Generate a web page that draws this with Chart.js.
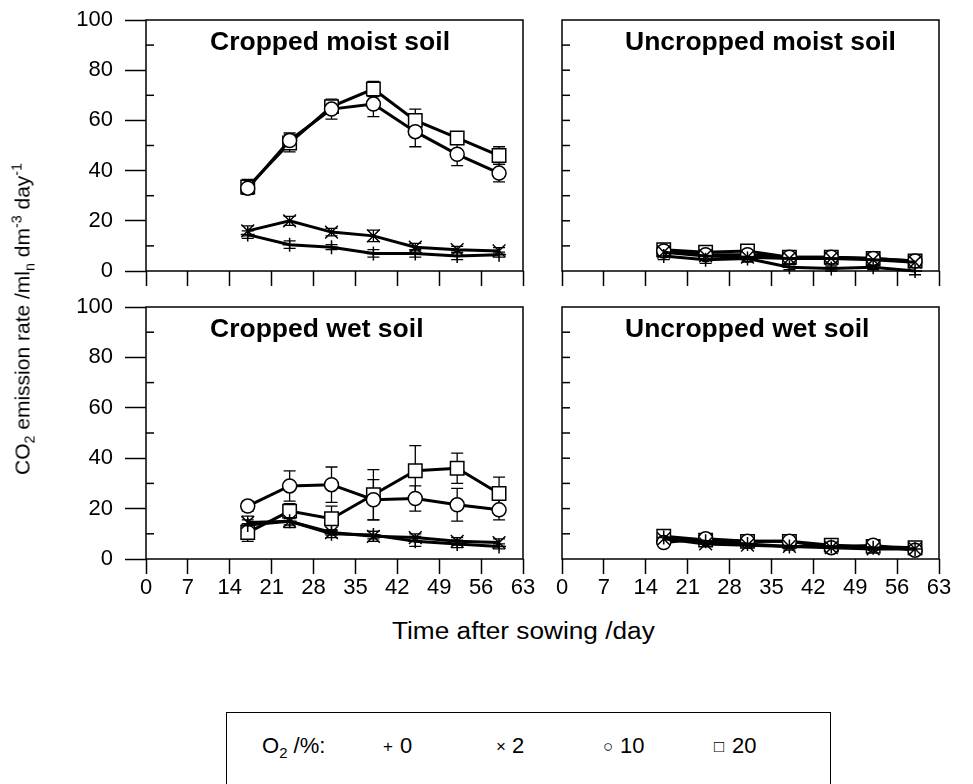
<!DOCTYPE html>
<html>
<head>
<meta charset="utf-8">
<script src="https://cdn.jsdelivr.net/npm/chart.js@4.4.1/dist/chart.umd.min.js"></script>
<style>
body{margin:0;background:#fff;width:973px;height:784px;overflow:hidden;position:relative;font-family:"Liberation Sans",Arial,sans-serif;color:#000}
canvas{position:absolute}
.txt{position:absolute;white-space:nowrap;line-height:1}
.ttl{font-weight:bold;font-size:25px;transform:scaleX(1.06);transform-origin:0 0}
sub,sup{font-size:0.68em;line-height:0}
</style>
</head>
<body>
<canvas id="c1" width="540" height="306" style="left:0;top:-6px"></canvas>
<canvas id="c2" width="433" height="306" style="left:540px;top:-6px"></canvas>
<canvas id="c3" width="540" height="329" style="left:0;top:281px"></canvas>
<canvas id="c4" width="433" height="329" style="left:540px;top:281px"></canvas>

<div class="txt ttl" style="left:210px;top:29px">Cropped moist soil</div>
<div class="txt ttl" style="left:625px;top:29px">Uncropped moist soil</div>
<div class="txt ttl" style="left:210px;top:316px">Cropped wet soil</div>
<div class="txt ttl" style="left:625px;top:316px">Uncropped wet soil</div>

<div class="txt" style="left:22px;top:319px;font-size:21px;transform:translate(-50%,-50%) rotate(-90deg)">CO<sub>2</sub> emission rate /ml<sub>n</sub> dm<sup>-3</sup> day<sup>-1</sup></div>
<div class="txt" style="left:392px;top:620px;font-size:23px;transform:scaleX(1.14);transform-origin:0 0">Time after sowing /day</div>

<div style="position:absolute;left:226px;top:712px;width:603px;height:120px;border:1.5px solid #000"></div>
<div class="txt" style="left:262px;top:735px;font-size:22px">O<sub>2</sub> /%:</div>
<div class="txt" style="left:383px;top:738px;font-size:17px">+</div>
<div class="txt" style="left:400px;top:735px;font-size:22px">0</div>
<div class="txt" style="left:496px;top:738px;font-size:17px">×</div>
<div class="txt" style="left:512px;top:735px;font-size:22px">2</div>
<div class="txt" style="left:603px;top:738px;font-size:17px">○</div>
<div class="txt" style="left:620px;top:735px;font-size:22px">10</div>
<div class="txt" style="left:714px;top:738px;font-size:17px">□</div>
<div class="txt" style="left:732px;top:735px;font-size:22px">20</div>

<script>
const days = [17, 24, 31, 38, 45, 52, 59];
const xTickValues = [0, 7, 14, 21, 28, 35, 42, 49, 56, 63];
const yTickValues = [0, 10, 20, 30, 40, 50, 60, 70, 80, 90, 100];
const yLabelValues = [0, 20, 40, 60, 80, 100];
const o2Levels = ['0', '2', '10', '20'];

// Cropped moist soil
const cmO0 = [14.5, 10.5, 9.5, 7, 7, 6, 6.5];
const cmO0Err = [1.5, 1.5, 1, 1.5, 1.5, 1.5, 1];
const cmO2 = [16, 20, 15.5, 14, 9.5, 8.5, 8];
const cmO2Err = [2, 1.8, 1.5, 2.3, 1.5, 1.3, 1.3];
const cmO10 = [33, 52, 64.5, 66.5, 55.5, 46.5, 39];
const cmO10Err = [2.5, 3, 4, 5, 6, 4.5, 3.5];
const cmO20 = [33.5, 51, 65.5, 72.5, 60, 53, 46];
const cmO20Err = [3, 3.5, 2.5, 3, 4.5, 2.5, 3.5];

// Uncropped moist soil
const umO0 = [6, 4.5, 5, 1.5, 1, 1.5, 0];
const umO0Err = [1.5, 1.5, 1.5, 1, 1, 1, 1.5];
const umO2 = [7.5, 6, 5.5, 5, 5, 4.5, 3.5];
const umO2Err = [1, 1, 1.5, 1, 1, 1, 1];
const umO10 = [8, 6.5, 6.5, 5.5, 5.5, 5, 4];
const umO10Err = [1, 1, 1, 1, 1, 1, 1];
const umO20 = [8.5, 7.5, 8, 5.5, 5.5, 5, 4];
const umO20Err = [1, 1, 1, 1, 1, 1, 1];

// Cropped wet soil
const cwO0 = [13.5, 15, 10, 9.5, 7, 6, 5];
const cwO0Err = [2, 2.5, 1.5, 1.5, 2, 1.5, 1];
const cwO2 = [14.5, 15, 10.5, 9, 8.5, 7, 6.5];
const cwO2Err = [2.5, 1.5, 1, 2, 1.5, 1.5, 1.5];
const cwO10 = [21, 29, 29.5, 23.5, 24, 21.5, 19.5];
const cwO10Err = [2, 6, 7, 8, 5, 6.5, 4];
const cwO20 = [10.5, 19, 16, 25.5, 35, 36, 26];
const cwO20Err = [3.5, 3, 5, 10, 10, 6, 6.5];

// Uncropped wet soil
const uwO0 = [8.5, 7, 6, 5, 5, 4.5, 4];
const uwO0Err = [1.5, 1.5, 1.5, 1.5, 1.5, 1.5, 1.5];
const uwO2 = [8, 6, 5.5, 5, 4.5, 4, 4];
const uwO2Err = [1, 1, 1, 1, 1, 1, 1];
const uwO10 = [6.5, 8, 7, 7, 4.5, 5.5, 3.5];
const uwO10Err = [1, 1, 1, 1, 1, 1, 1];
const uwO20 = [9, 7.5, 7, 7, 5.5, 5, 4.5];
const uwO20Err = [1, 1, 1, 1, 1, 1, 1];

const markerStyles = ['cross', 'crossRot', 'circle', 'rect'];
const markerRadius = [7, 9, 7, 9.5];

const errorBars = {
  id: 'errorBars',
  beforeDatasetsDraw(chart) {
    const ctx = chart.ctx;
    const yScale = chart.scales.y;
    ctx.save();
    ctx.strokeStyle = '#000';
    ctx.lineWidth = 1.3;
    chart.data.datasets.forEach((ds, i) => {
      chart.getDatasetMeta(i).data.forEach((pt, j) => {
        const v = ds.data[j].y, e = ds.errors[j];
        const yt = yScale.getPixelForValue(v + e);
        const yb = yScale.getPixelForValue(v - e);
        ctx.beginPath();
        ctx.moveTo(pt.x, yt); ctx.lineTo(pt.x, yb);
        ctx.moveTo(pt.x - 6, yt); ctx.lineTo(pt.x + 6, yt);
        ctx.moveTo(pt.x - 6, yb); ctx.lineTo(pt.x + 6, yb);
        ctx.stroke();
      });
    });
    ctx.restore();
  }
};

// box round the plot area, plus the short inward ticks
const frame = {
  id: 'frame',
  afterDraw(chart, args, opts) {
    const ctx = chart.ctx, a = chart.chartArea, y = chart.scales.y;
    ctx.save();
    ctx.strokeStyle = '#000';
    ctx.lineWidth = 1.5;
    ctx.strokeRect(a.left, a.top, a.right - a.left, a.bottom - a.top);
    yTickValues.forEach(v => {
      if (v === 0 || v === 100) return;
      if (opts.labels && yLabelValues.includes(v)) return;
      const py = y.getPixelForValue(v);
      ctx.beginPath();
      ctx.moveTo(a.left, py);
      ctx.lineTo(a.left + 8, py);
      ctx.stroke();
    });
    ctx.restore();
  }
};

function makePanel(id, values, errs, cfg) {
  const datasets = values.map((vals, k) => ({
    label: o2Levels[k],
    data: vals.map((v, j) => ({x: days[j], y: v})),
    errors: errs[k],
    borderColor: '#000',
    borderWidth: 3,
    pointStyle: markerStyles[k],
    pointRadius: markerRadius[k],
    pointBorderWidth: 1.5,
    pointBorderColor: '#000',
    pointBackgroundColor: '#fff',
    clip: false
  }));
  return new Chart(document.getElementById(id), {
    type: 'line',
    data: {datasets},
    options: {
      responsive: false,
      animation: false,
      events: [],
      layout: {padding: cfg.padding},
      plugins: {legend: {display: false}, tooltip: {enabled: false}, frame: {labels: cfg.yLabels}},
      scales: {
        x: {
          type: 'linear', min: 0, max: 63,
          afterBuildTicks: s => { s.ticks = xTickValues.map(v => ({value: v})); },
          afterFit: s => { s.height = cfg.xHeight; },
          border: {display: false},
          grid: {drawOnChartArea: false, tickLength: 15, tickWidth: 1.5, tickColor: '#000'},
          ticks: {
            display: cfg.xLabels, autoSkip: false, maxRotation: 0, padding: 1, color: '#000',
            font: {family: '"Liberation Sans", Arial, sans-serif', size: 22}
          }
        },
        y: {
          min: 0, max: 100,
          afterBuildTicks: s => { s.ticks = yTickValues.map(v => ({value: v})); },
          afterFit: s => { s.width = cfg.yWidth; },
          border: {display: false},
          grid: {
            display: cfg.yLabels, drawOnChartArea: false, tickLength: 21, tickWidth: 1.5,
            tickColor: c => yLabelValues.includes(c.tick.value) ? '#000' : 'rgba(0,0,0,0)'
          },
          ticks: {
            display: cfg.yLabels, autoSkip: false, padding: 12, color: '#000',
            font: {family: '"Liberation Sans", Arial, sans-serif', size: 22},
            callback: v => yLabelValues.includes(v) ? String(v) : ''
          }
        }
      }
    },
    plugins: [errorBars, frame]
  });
}

makePanel('c1', [cmO0, cmO2, cmO10, cmO20], [cmO0Err, cmO2Err, cmO10Err, cmO20Err],
  {padding: {left: 0, top: 26, right: 17, bottom: 0}, xHeight: 29, yWidth: 146, xLabels: false, yLabels: true});
makePanel('c2', [umO0, umO2, umO10, umO20], [umO0Err, umO2Err, umO10Err, umO20Err],
  {padding: {left: 0, top: 26, right: 34, bottom: 0}, xHeight: 29, yWidth: 22, xLabels: false, yLabels: false});
makePanel('c3', [cwO0, cwO2, cwO10, cwO20], [cwO0Err, cwO2Err, cwO10Err, cwO20Err],
  {padding: {left: 0, top: 26, right: 17, bottom: 0}, xHeight: 51, yWidth: 146, xLabels: true, yLabels: true});
makePanel('c4', [uwO0, uwO2, uwO10, uwO20], [uwO0Err, uwO2Err, uwO10Err, uwO20Err],
  {padding: {left: 0, top: 26, right: 34, bottom: 0}, xHeight: 51, yWidth: 22, xLabels: true, yLabels: false});
</script>
</body>
</html>
